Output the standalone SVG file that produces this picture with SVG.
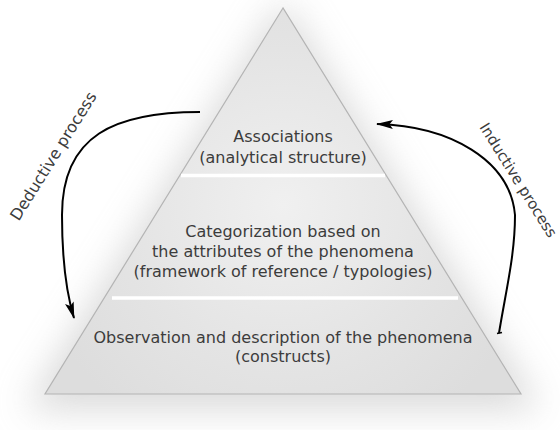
<svg xmlns="http://www.w3.org/2000/svg" width="560" height="430" viewBox="0 0 560 430">
  <defs>
    <radialGradient id="pyrFill" cx="283" cy="205" r="260" gradientUnits="userSpaceOnUse">
      <stop offset="0" stop-color="#f0f0f0"/>
      <stop offset="0.6" stop-color="#e4e4e4"/>
      <stop offset="1" stop-color="#dddddd"/>
    </radialGradient>
    <filter id="glow" x="-30%" y="-30%" width="160%" height="160%">
      <feGaussianBlur stdDeviation="18"/>
    </filter>
    <marker id="arrow" markerWidth="18" markerHeight="12" refX="16" refY="6" orient="auto" markerUnits="userSpaceOnUse">
      <path d="M0,1.5 L17,6 L0,10.5 L3.5,6 z" fill="#000"/>
    </marker>
  </defs>
  <style>
    .lbl { font-family: "DejaVu Sans", Verdana, sans-serif; font-size: 16px; fill: #3c3c3c; text-anchor: middle; }
    .proc { font-family: "DejaVu Sans", Verdana, sans-serif; font-size: 16px; fill: #3c3c3c; }
    .conn { fill: none; stroke: #000; stroke-width: 2; }
    .sep { stroke: #ffffff; stroke-width: 3.5; }
  </style>
  <rect width="560" height="430" fill="#ffffff"/>
  <polygon points="283,0 25,410 541,410" fill="#bdbdbd" opacity="0.55" filter="url(#glow)"/>

  <g id="pyramid">
    <polygon points="283,8 45,394 521,394" fill="url(#pyrFill)" stroke="#b4b4b4" stroke-width="1.2"/>
    <line class="sep" x1="181" y1="175.5" x2="385" y2="175.5"/>
    <line class="sep" x1="112" y1="298" x2="458" y2="298"/>
  </g>

  <g id="level-top">
    <text class="lbl" x="283" y="142">Associations</text>
    <text class="lbl" x="283" y="163">(analytical structure)</text>
  </g>

  <g id="level-middle">
    <text class="lbl" x="283" y="237">Categorization based on</text>
    <text class="lbl" x="283" y="257">the attributes of the phenomena</text>
    <text class="lbl" x="283" y="277">(framework of reference / typologies)</text>
  </g>

  <g id="level-bottom">
    <text class="lbl" x="283" y="343">Observation and description of the phenomena</text>
    <text class="lbl" x="283" y="362">(constructs)</text>
  </g>

  <g id="connectors">
    <path class="conn" d="M200,112 C115,112 62,135 62,215 C62,262 67,295 74,318" marker-end="url(#arrow)"/>
    <path class="conn" d="M499,333 C506,290 515,255 515,215 C510,160 450,126 377,124" marker-end="url(#arrow)"/>
    <line x1="497" y1="333.5" x2="502" y2="332.5" stroke="#000" stroke-width="1.5"/>
  </g>

  <g id="labels">
    <text class="proc" text-anchor="middle" transform="translate(58,159) rotate(-58)">Deductive process</text>
    <text class="proc" style="font-size:15px" transform="translate(479,127) rotate(58)">Inductive process</text>
  </g>
</svg>
